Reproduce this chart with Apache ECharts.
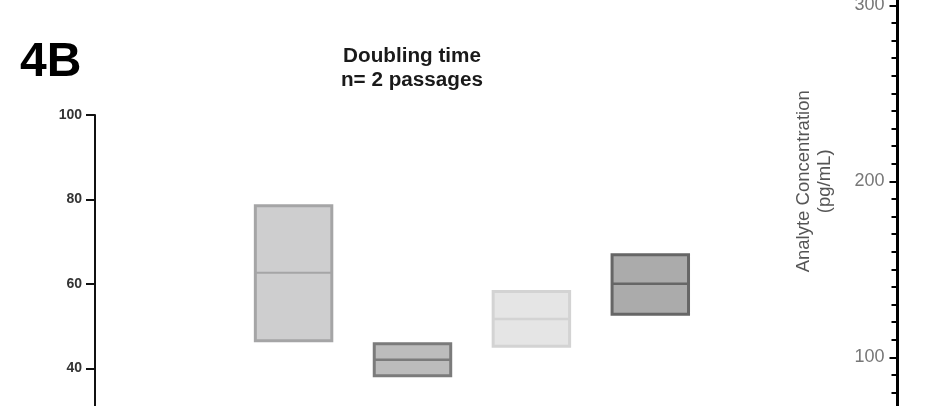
<!DOCTYPE html>
<html><head><meta charset="utf-8">
<script src="https://cdn.jsdelivr.net/npm/echarts@6/dist/echarts.min.js"></script>
<style>html,body{margin:0;padding:0;background:#fff}#c{width:952px;height:406px}</style>
</head><body><div id="c"></div>
<script>
// ---- data ----
const panelLabel = '4B';
const titleText = 'Doubling time\nn= 2 passages';
const groups = [1, 2, 3, 4];
const maxValues = [78.5, 45.8, 58.2, 66.9];
const medianValues = [62.6, 42.0, 51.7, 60.0];
const minValues = [46.5, 38.2, 45.2, 52.8];
const leftAxisMin = 20, leftAxisMax = 100, leftAxisStep = 20;
const groupAxisMin = -0.67, groupAxisMax = 5;
const rightAxisMin = 0, rightAxisMax = 400, rightAxisStep = 100;
const rightAxisName = 'Analyte Concentration\n(pg/mL)';

// ---- styles ----
const fills = ['#cececf', '#bcbcbc', '#e5e5e5', '#ababab'];
const borders = ['#a5a5a6', '#7b7b7b', '#d3d3d3', '#666666'];
const medianWidths = [2, 2.5, 2.5, 2.5];
const boxWidth = 0.643;
const FONT = '"Liberation Sans", Arial, sans-serif';

const seriesData = groups.map((g, i) => [g, minValues[i], medianValues[i], maxValues[i]]);

const chart = echarts.init(document.getElementById('c'), null, {renderer: 'canvas'});
chart.setOption({
  animation: false,
  backgroundColor: '#ffffff',
  title: [
    {text: panelLabel, left: 20, top: 38, padding: 0,
     textStyle: {fontFamily: FONT, fontSize: 48, fontWeight: 'bold', color: '#000', lineHeight: 50}},
    {text: titleText, left: 412, top: 44.5, textAlign: 'center', padding: 0,
     textStyle: {fontFamily: FONT, fontSize: 20.7, fontWeight: 'bold', color: '#1a1a1a', lineHeight: 24}}
  ],
  grid: [
    {left: 95, right: 182.8, top: 115, bottom: -46.7, containLabel: false, outerBoundsMode: 'none'},
    {left: 897.5, width: 30, top: -170.7, bottom: -127.3, containLabel: false, outerBoundsMode: 'none'}
  ],
  xAxis: [
    {gridIndex: 0, type: 'value', min: groupAxisMin, max: groupAxisMax, show: false},
    {gridIndex: 1, type: 'value', min: 0, max: 1, show: false}
  ],
  yAxis: [
    {gridIndex: 0, type: 'value', position: 'left',
     min: leftAxisMin, max: leftAxisMax, interval: leftAxisStep,
     axisLine: {show: true, onZero: false, lineStyle: {color: '#111', width: 2}},
     axisTick: {show: true, length: 9, lineStyle: {color: '#111', width: 2}},
     axisLabel: {fontFamily: FONT, fontSize: 14, fontWeight: 'bold', color: '#333', margin: 13},
     splitLine: {show: false}},
    {gridIndex: 1, type: 'value', position: 'left',
     min: rightAxisMin, max: rightAxisMax, interval: rightAxisStep,
     axisLine: {show: true, onZero: false, lineStyle: {color: '#000', width: 3}},
     axisTick: {show: true, length: 8, lineStyle: {color: '#000', width: 2}},
     minorTick: {show: true, splitNumber: 10, length: 6, lineStyle: {color: '#000', width: 2}},
     axisLabel: {fontFamily: FONT, fontSize: 18, color: '#777', margin: 13},
     splitLine: {show: false},
     name: rightAxisName, nameLocation: 'middle', nameRotate: 90, nameGap: 62,
     nameTextStyle: {fontFamily: FONT, fontSize: 18.5, color: '#555', lineHeight: 21, align: 'center'}}
  ],
  series: [{
    type: 'custom',
    xAxisIndex: 0, yAxisIndex: 0,
    data: seriesData,
    encode: {x: 0, y: [1, 2, 3]},
    renderItem: function (params, api) {
      const i = params.dataIndex;
      const x = api.value(0);
      const top = api.coord([x, api.value(3)]);
      const bot = api.coord([x, api.value(1)]);
      const med = api.coord([x, api.value(2)]);
      const w = api.size([boxWidth, 0])[0];
      return {type: 'group', children: [
        {type: 'rect', shape: {x: top[0] - w / 2, y: top[1], width: w, height: bot[1] - top[1]},
         style: {fill: fills[i], stroke: borders[i], lineWidth: 3}},
        {type: 'line', shape: {x1: top[0] - w / 2, y1: med[1], x2: top[0] + w / 2, y2: med[1]},
         style: {stroke: borders[i], lineWidth: medianWidths[i]}}
      ]};
    }
  }]
});
</script></body></html>
